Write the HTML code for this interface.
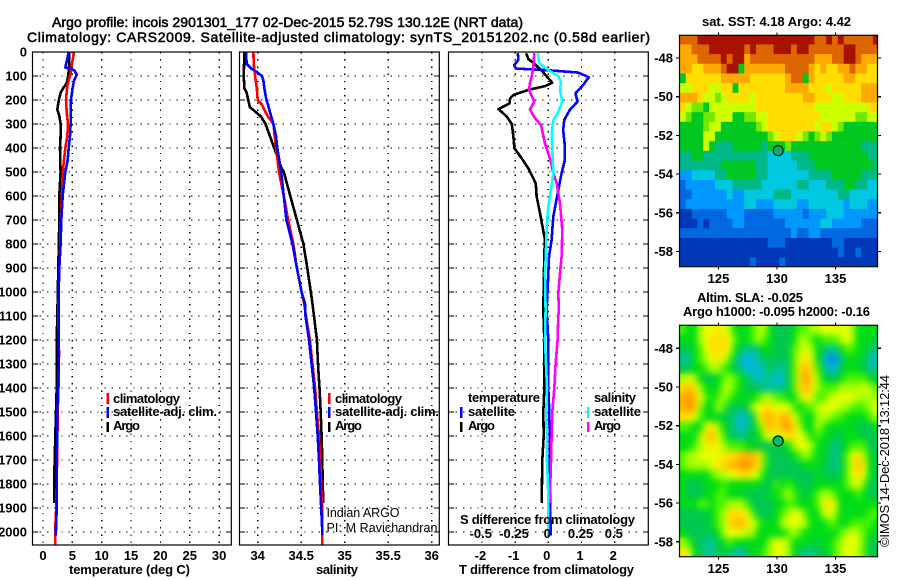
<!DOCTYPE html>
<html lang="en">
<head>
<meta charset="utf-8">
<title>Argo profile chart</title>
<style>
html,body{margin:0;padding:0;background:#fff;}
svg{display:block;}
text{font-family:"Liberation Sans",sans-serif;fill:#000;}
.b{font-weight:bold;font-size:13px;}
.t{font-size:14px;stroke:#000;stroke-width:.55px;}
.n{font-size:12.5px;}
</style>
</head>
<body>
<svg id="chart" xmlns="http://www.w3.org/2000/svg" width="900" height="580" viewBox="0 0 900 580">
<defs>
<clipPath id="sst-clip"><rect x="680" y="35" width="197" height="231"/></clipPath>
<clipPath id="sla-clip"><rect x="680" y="325" width="197" height="231"/></clipPath>
<filter id="sla-smooth" filterUnits="userSpaceOnUse" x="660" y="305" width="240" height="270" color-interpolation-filters="sRGB">
<feGaussianBlur in="SourceGraphic" stdDeviation="3.5" result="soft"/>
<feMerge><feMergeNode in="SourceGraphic"/><feMergeNode in="soft"/></feMerge>
</filter>
</defs>
<text class="t" x="52" y="27" textLength="471" lengthAdjust="spacing">Argo profile: incois 2901301_177 02-Dec-2015 52.79S 130.12E (NRT data)</text>
<text class="t" x="27" y="42" textLength="623" lengthAdjust="spacing">Climatology: CARS2009. Satellite-adjusted climatology: synTS_20151202.nc (0.58d earlier)</text>
<g id="panels"></g>
<text class="b" x="69" y="574" textLength="121" lengthAdjust="spacing">temperature (deg C)</text>
<text class="b" x="316" y="574" textLength="42" lengthAdjust="spacing">salinity</text>
<text class="b" x="459" y="574" textLength="175" lengthAdjust="spacing">T difference from climatology</text>
<text class="b" x="460" y="524" textLength="175" lengthAdjust="spacing">S difference from climatology</text>
<g>
<rect x="106.5" y="393" width="2.5" height="11" fill="#f00"/>
<text class="b" x="113" y="403" textLength="67" lengthAdjust="spacing">climatology</text>
<rect x="106.5" y="407" width="2.5" height="11" fill="#00f"/>
<text class="b" x="113" y="416" textLength="104" lengthAdjust="spacing">satellite-adj. clim.</text>
<rect x="106.5" y="422" width="2.5" height="10" fill="#000"/>
<text class="b" x="113" y="430" textLength="27" lengthAdjust="spacing">Argo</text>
</g>
<g>
<rect x="328" y="393" width="2.5" height="11" fill="#f00"/>
<text class="b" x="335" y="403" textLength="67" lengthAdjust="spacing">climatology</text>
<rect x="328" y="407" width="2.5" height="11" fill="#00f"/>
<text class="b" x="335" y="416" textLength="104" lengthAdjust="spacing">satellite-adj. clim.</text>
<rect x="328" y="422" width="2.5" height="10" fill="#000"/>
<text class="b" x="335" y="430" textLength="27" lengthAdjust="spacing">Argo</text>
</g>
<text class="n" x="326.5" y="517" textLength="73" lengthAdjust="spacing">Indian ARGO</text>
<text class="n" x="326.5" y="532" textLength="111" lengthAdjust="spacing">PI: M Ravichandran</text>
<g>
<text class="b" x="468" y="402" textLength="72" lengthAdjust="spacing">temperature</text>
<rect x="460" y="407" width="2.5" height="11" fill="#00f"/>
<text class="b" x="468" y="416" textLength="47" lengthAdjust="spacing">satellite</text>
<rect x="460" y="422" width="2.5" height="10" fill="#000"/>
<text class="b" x="468" y="430" textLength="27" lengthAdjust="spacing">Argo</text>
<text class="b" x="594" y="402" textLength="42" lengthAdjust="spacing">salinity</text>
<rect x="587" y="407" width="2.5" height="11" fill="#0ff"/>
<text class="b" x="594" y="416" textLength="47" lengthAdjust="spacing">satellite</text>
<rect x="587" y="422" width="2.5" height="10" fill="#f0f"/>
<text class="b" x="594" y="430" textLength="27" lengthAdjust="spacing">Argo</text>
</g>
<text class="b" x="702" y="26" textLength="149" lengthAdjust="spacing">sat. SST: 4.18 Argo: 4.42</text>
<text class="b" x="697" y="302" textLength="106" lengthAdjust="spacing">Altim. SLA: -0.025</text>
<text class="b" x="683" y="316" textLength="187" lengthAdjust="spacing">Argo h1000: -0.095 h2000: -0.16</text>
<text font-size="13" transform="translate(889 547) rotate(-90)" textLength="172" lengthAdjust="spacing">©IMOS 14-Dec-2018 13:12:44</text>
<g id="maps"></g>
</svg>
<script>
const depthTicks = [0,100,200,300,400,500,600,700,800,900,1000,1100,1200,1300,1400,1500,1600,1700,1800,1900,2000];
const tempTicks = [0,5,10,15,20,25,30];
const salTicks = [34,34.5,35,35.5,36];
const salTickLabels = ['34','34.5','35','35.5','36'];
const tDiffTicks = [-2,-1,0,1,2];
const sDiffTicks = [-0.5,-0.25,0,0.25,0.5];
const sDiffTickLabels = ['-0.5','-0.25','0','0.25','0.5'];
const lonTicks = [125,130,135];
const latTicks = [-48,-50,-52,-54,-56,-58];

const tempClimDepth = [0,50,90,140,200,250,300,350,400,450,500,600,700,800,900,1000,1100,1250,1350,1500,1700,1900,1980,2055];
const tempClimValue = [5.28,4.94,4.71,4.14,3.92,4.03,4.26,4.14,3.8,3.58,3.35,3.24,3.01,2.95,2.78,2.67,2.6,2.73,2.7,2.5,2.4,2.25,2.1,2.1];
const tempSatDepth = [0,40,65,70,78,95,120,150,200,300,350,400,450,500,600,700,800,900,1000,1100,1300,1500,1600,1700,1900,2000,2015];
const tempSatValue = [4.37,4.03,3.8,4.88,5.4,5.73,5.28,5.05,4.77,4.71,4.6,4.37,4.2,3.8,3.35,3.12,3.0,2.78,2.67,2.67,2.67,2.44,2.44,2.33,2.33,2.2,2.2];
const tempArgoDepth = [0,50,100,130,150,170,200,240,265,300,350,400,500,600,700,800,1100,1200,1400,1600,1750,1880];
const tempArgoValue = [4.49,4.49,4.3,4.03,3.45,3.0,2.7,2.44,2.78,3.0,3.0,2.9,3.0,2.78,2.78,2.7,2.44,2.33,2.33,2.1,1.94,1.94];

const salClimDepth = [0,50,100,150,200,220,250,270,300,400,500,600,700,750,800,900,1000,1050,1100,1200,1300,1400,1500,1600,1700,1800,1900,2000,2055];
const salClimValue = [33.95,33.954,33.97,33.99,34.0,34.05,34.09,34.12,34.18,34.21,34.245,34.30,34.35,34.38,34.41,34.45,34.505,34.535,34.555,34.60,34.63,34.66,34.68,34.705,34.72,34.73,34.74,34.743,34.743];
const salSatDepth = [0,50,70,80,100,120,150,200,220,250,300,350,400,500,600,700,800,900,1000,1050,1100,1200,1300,1400,1500,1600,1700,1800,1900,2000,2015];
const salSatValue = [33.865,33.874,33.93,33.977,34.05,34.065,34.076,34.10,34.12,34.14,34.18,34.21,34.225,34.27,34.30,34.33,34.40,34.45,34.505,34.545,34.55,34.59,34.62,34.65,34.67,34.69,34.705,34.716,34.73,34.743,34.743];
const salArgoDepth = [0,100,150,170,200,230,250,270,300,350,400,450,480,500,600,700,800,900,1000,1050,1100,1200,1300,1400,1500,1600,1700,1800,1880];
const salArgoValue = [33.846,33.84,33.846,33.874,33.892,33.91,33.977,34.04,34.09,34.14,34.19,34.24,34.27,34.30,34.375,34.45,34.525,34.57,34.61,34.63,34.647,34.68,34.693,34.71,34.724,34.735,34.743,34.747,34.755];

const diffTArgoDepth = [5,30,45,78,128,142,158,179,193,214,238,269,300,353,401,443,485,547,603,672,783,839,922,1075,1200,1400,1500,1600,1700,1880];
const diffTArgoValue = [-.67,-.6,-.45,-.2,.12,-.1,-.6,-1.05,-1.15,-1.17,-1.5,-1.25,-1.1,-1.05,-1.02,-.8,-.6,-.38,-.35,-.25,-.1,-.12,-.13,-.15,-.12,-.12,-.15,-.14,-.18,-.2];
const diffTSatDepth = [5,33,55,69,75,86,105,137,172,207,241,283,325,394,450,505,575,686,783,853,992,1075,1200,1400,1500,1650,1800,2000,2015];
const diffTSatValue = [-.92,-.9,-1.03,-.97,-.1,.9,1.22,1.05,.82,.88,.65,.48,.45,.5,.5,.4,.3,.15,.1,.02,-.02,-.05,0,0,.03,.05,.05,.07,.07];
const diffSSatDepth = [5,47,75,100,124,158,207,249,283,339,408,505,575,644,728,839,922,1075,1200,1400,1500,1700,1850,2000,2015];
const diffSSatValue = [-.08,-.068,0,.075,.095,.088,.105,.075,.038,.025,.03,.038,.02,0,-.012,-.018,-.025,-.02,-.025,-.01,-.015,-.01,0,0,0];
const diffSArgoDepth = [5,61,89,131,158,207,239,276,304,381,443,505,547,631,742,853,922,1006,1075,1100,1200,1300,1400,1500,1600,1700,1800,1880];
const diffSArgoValue = [-.105,-.113,-.12,-.138,-.145,-.105,-.138,-.1,-.055,-.025,.012,.038,.063,.088,.105,.1,.088,.075,.08,.075,.07,.055,.045,.03,.025,.02,.015,.01];

const sstPalette = ['#0038b8','#0068e0','#0098ff','#00c8e0','#00b888','#00c820','#70e800','#ccff00','#ffdd00','#ffaa00','#dd6600','#aa1100'];
const slaPalette = ['#0090f0','#00b8d8','#00c498','#00c850','#00dc18','#48f400','#a8ff00','#e8ff00','#ffe000','#ffb800','#ff9400'];
const sstGrid = [
[10,10,10,11,11,11,11,11,11,11,11,11,11,11,11,11,11,11,11,11,11,11,11,10,10,11,10,11,10,10,10,10,10,11],
[9,9,10,10,10,11,11,11,11,11,11,10,11,10,10,10,11,11,11,10,11,11,10,10,10,10,10,10,11,11,10,10,10,10],
[9,9,9,10,10,10,10,11,10,11,11,9,10,10,10,10,10,10,10,10,10,10,10,9,9,9,10,10,11,11,10,9,9,9],
[9,9,8,8,9,9,9,10,11,11,5,9,9,9,9,9,9,9,10,10,10,10,9,8,9,8,8,9,9,10,9,9,8,8],
[5,8,8,8,8,8,8,9,9,9,9,9,8,8,8,8,8,8,9,10,10,5,9,8,8,8,8,8,9,9,8,8,8,8],
[7,7,8,8,8,7,7,8,8,5,8,8,8,8,8,8,8,8,9,9,9,9,8,8,8,7,8,8,8,8,8,9,9,9],
[9,9,9,8,7,7,6,7,8,8,8,8,7,8,8,8,8,8,8,8,8,9,9,8,8,8,7,7,8,8,8,9,9,9],
[8,7,6,6,5,7,7,7,7,7,7,7,7,8,8,8,8,8,8,8,8,8,8,7,7,7,7,7,7,7,7,7,8,8],
[7,6,5,5,6,6,7,7,7,5,5,6,6,7,7,8,8,8,8,8,8,8,8,8,7,7,7,7,7,7,6,6,7,7],
[5,5,5,5,6,7,7,5,5,5,5,5,5,6,7,8,8,8,8,8,8,8,8,7,8,8,7,6,5,5,5,5,5,5],
[5,5,5,5,7,7,5,5,5,5,5,5,5,5,5,6,7,8,8,8,7,6,5,6,7,6,5,5,5,5,5,5,5,5],
[5,5,5,5,7,5,4,4,4,5,5,5,5,5,4,5,5,5,6,5,5,5,5,5,5,5,5,5,5,5,5,4,4,4],
[4,4,5,5,4,4,4,4,4,4,4,4,4,4,4,3,3,3,3,4,4,4,5,5,5,5,5,5,5,5,5,5,4,4],
[4,4,4,4,4,4,4,5,5,5,5,5,5,4,4,3,3,3,3,3,4,4,4,5,5,5,5,5,5,5,5,5,5,4],
[2,2,3,3,3,3,4,4,5,5,5,5,5,4,4,3,3,3,3,3,3,3,4,4,4,4,5,5,5,5,5,4,4,4],
[1,2,2,2,2,2,3,3,3,4,4,4,4,4,3,3,3,3,3,3,4,4,3,3,3,4,4,4,5,5,4,4,3,3],
[1,1,2,2,2,2,2,2,3,2,2,3,3,3,3,3,4,4,4,3,3,3,3,3,3,3,3,4,4,3,3,3,3,3],
[1,2,2,2,2,2,2,2,2,2,2,3,3,2,2,2,3,3,3,3,2,2,3,3,3,3,3,3,2,3,3,3,2,2],
[0,0,1,1,1,1,1,1,2,2,2,1,1,1,1,1,2,2,2,2,2,1,2,2,2,3,3,3,2,2,2,2,2,2],
[0,0,0,1,0,1,1,1,1,2,2,1,1,1,1,1,1,1,2,2,2,2,2,2,3,3,2,2,2,2,2,1,1,1],
[1,1,1,1,1,1,1,1,1,1,1,1,1,1,1,1,1,1,1,2,1,1,2,2,1,1,1,1,1,1,1,1,1,1],
[0,0,0,0,0,0,0,0,0,0,0,0,0,0,0,1,1,1,0,0,0,0,0,0,0,0,1,1,0,0,0,0,0,0],
[0,0,0,0,0,0,0,0,0,0,0,0,0,0,0,0,0,0,0,0,0,0,0,0,0,0,0,1,0,0,1,0,0,0],
[0,0,0,0,0,0,0,0,0,0,0,0,1,0,0,0,0,1,0,0,0,0,0,0,0,0,0,0,0,0,0,0,0,0]
];
const slaGrid = [
[5,4,4,6,7,7,8,7,6,4,4,4,5,6,6,4,3,3,3,4,5,5,6,6,7,7,7,7,7,6,4,4,4,4],
[4,4,4,6,7,8,8,8,7,5,4,4,5,6,5,4,3,3,3,4,6,6,5,4,5,5,5,6,7,6,4,4,4,3],
[3,3,4,5,7,8,8,8,7,4,3,2,2,3,4,4,3,3,3,5,6,7,6,4,3,2,2,4,5,5,4,4,3,2],
[2,2,4,5,6,7,8,7,5,3,1,1,1,2,3,3,3,3,3,5,7,8,7,4,2,0,0,2,4,4,4,3,2,1],
[3,3,4,4,5,6,6,5,4,3,2,1,1,1,2,3,2,2,3,5,8,9,8,5,3,1,1,3,4,4,4,3,2,2],
[6,7,6,4,3,3,4,5,6,5,4,3,2,1,2,2,1,1,3,5,8,10,8,6,4,3,3,4,5,5,5,5,4,3],
[8,9,8,6,4,4,4,6,6,5,4,3,3,3,2,2,2,2,3,5,8,9,8,6,5,5,5,6,6,6,6,7,6,5],
[9,10,9,7,5,4,5,6,5,4,4,4,4,5,6,6,5,5,4,4,6,8,7,5,5,6,7,7,7,7,6,6,6,6],
[9,10,9,6,4,4,6,5,3,3,3,3,6,7,8,8,7,7,7,5,4,5,5,6,7,7,7,6,6,5,5,5,6,7],
[8,8,7,5,4,4,4,3,3,2,1,2,3,7,9,9,8,9,9,7,5,4,4,6,6,6,5,5,4,4,4,4,5,6],
[5,5,4,4,7,8,6,4,3,2,1,2,3,5,8,9,8,9,10,8,6,4,4,6,5,4,4,4,4,4,3,3,3,4],
[4,4,4,6,8,9,7,5,3,3,2,3,3,4,6,7,6,7,8,8,7,6,4,5,4,4,3,3,4,4,4,3,3,3],
[4,4,5,6,7,8,7,6,5,5,5,4,4,3,3,3,3,3,4,6,7,7,6,4,4,3,2,3,4,5,5,5,3,3],
[5,6,6,7,7,7,7,8,8,8,9,9,9,8,5,3,3,3,3,4,5,6,5,4,4,3,2,3,5,7,8,6,4,3],
[5,6,6,6,6,7,8,8,9,9,10,10,9,8,5,3,3,3,3,3,3,4,4,4,3,3,2,3,5,7,9,7,4,3],
[4,4,4,4,4,5,6,6,7,7,8,8,7,6,4,3,3,3,3,3,3,3,3,4,3,3,3,3,5,7,8,7,4,3],
[4,3,3,3,4,4,4,5,4,4,4,4,4,4,3,3,5,4,5,4,3,3,3,4,4,4,4,4,5,6,7,5,3,3],
[4,3,3,3,4,4,5,5,4,4,4,3,3,3,3,4,4,5,6,5,4,3,4,5,6,6,5,4,4,4,5,4,3,3],
[4,4,4,5,5,4,5,5,6,6,6,5,3,3,3,3,4,4,5,5,4,4,4,5,7,8,7,4,4,4,4,4,4,4],
[3,3,3,3,3,4,5,6,8,8,8,7,5,3,3,3,4,5,6,7,7,5,4,4,6,7,6,4,4,4,4,4,5,5],
[3,3,3,3,3,4,5,6,8,9,9,8,7,5,4,4,4,6,7,7,7,6,4,4,4,5,5,4,4,5,5,5,5,4],
[4,3,3,3,3,3,4,6,7,7,7,6,6,4,4,4,4,4,5,6,5,4,4,4,4,4,4,5,6,7,6,5,4,4],
[6,5,3,3,2,2,3,4,5,4,4,4,4,4,4,6,7,7,6,4,4,4,4,3,4,4,5,6,7,7,7,5,3,3],
[8,7,4,3,2,2,3,3,3,2,1,3,4,4,5,6,7,7,6,4,3,2,2,3,3,4,5,6,7,7,6,5,3,3]
];
const floatLon = 130.12;
const floatLat = -52.79;

const NS = 'http://www.w3.org/2000/svg';
const panels = document.getElementById('panels');
const maps = document.getElementById('maps');
const PLOT_TOP = 52, PLOT_BOTTOM = 545;
const yDepth = d => 52 + d * 0.24;
const xTemp = v => 43 + v * 5.87;
const xSal = v => 257.7 + (v - 34) * 87;
const xTDiff = v => 548.3 + v * 33.2;
const xSDiff = v => 548.3 + v * 133;
const xLon = v => 777 + (v - 130) * 11.7;
const ySst = v => 58 - (v + 48) * 19.35;
const ySla = v => 348.3 - (v + 48) * 19.35;

function seg(parent, name, x1, y1, x2, y2, attrs) {
  const el = document.createElementNS(NS, 'line');
  
  
  el.setAttribute('x1', x1);
  el.setAttribute('y1', y1);
  el.setAttribute('x2', x2);
  el.setAttribute('y2', y2);
  el.setAttribute('stroke', '#000');
  el.setAttribute('shape-rendering', 'crispEdges');
  for (const k in attrs) el.setAttribute(k, attrs[k]);
  parent.appendChild(el);
  return el;
}
function label(parent, name, x, y, str, anchor) {
  const el = document.createElementNS(NS, 'text');
  
  
  el.setAttribute('class', 'b');
  el.setAttribute('x', x);
  el.setAttribute('y', y);
  el.setAttribute('text-anchor', anchor);
  el.textContent = str;
  parent.appendChild(el);
}
function group(parent, name) {
  const g = document.createElementNS(NS, 'g');
  
  
  parent.appendChild(g);
  return g;
}
function profile(parent, name, depths, values, xf, color) {
  const el = document.createElementNS(NS, 'polyline');
  
  
  el.setAttribute('points', depths.map((d, i) => xf(values[i]).toFixed(1) + ',' + yDepth(d).toFixed(1)).join(' '));
  el.setAttribute('fill', 'none');
  el.setAttribute('stroke', color);
  el.setAttribute('stroke-width', '2.6');
  el.setAttribute('stroke-linejoin', 'round');
  el.setAttribute('shape-rendering', 'crispEdges');
  parent.appendChild(el);
}
function profileFrame(parent, left, right, gridXs) {
  const gridStyle = {'stroke-width': '1.3', 'stroke-dasharray': '1.4 5.8'};
  gridXs.forEach(x => {
    seg(parent, 'vertical-gridline', x, PLOT_TOP, x, PLOT_BOTTOM, gridStyle);
  });
  depthTicks.forEach(d => {
    const y = yDepth(d);
    seg(parent, 'horizontal-gridline', left, y, right, y, gridStyle);
    seg(parent, 'depth-tick-left', left, y, left + 5.5, y, {'stroke-width': '1.2'});
    seg(parent, 'depth-tick-right', right - 5.5, y, right, y, {'stroke-width': '1.2'});
  });
}
function profileBorder(parent, left, right) {
  const el = document.createElementNS(NS, 'rect');
  
  
  el.setAttribute('x', left);
  el.setAttribute('y', PLOT_TOP);
  el.setAttribute('width', right - left);
  el.setAttribute('height', PLOT_BOTTOM - PLOT_TOP);
  el.setAttribute('fill', 'none');
  el.setAttribute('stroke', '#000');
  el.setAttribute('stroke-width', '1.2');
  parent.appendChild(el);
}

/* temperature panel */
const tempPanel = group(panels, 'temperature-panel');
profileFrame(tempPanel, 32.5, 231.3, tempTicks.map(xTemp));
profile(tempPanel, 'temperature-argo-line', tempArgoDepth, tempArgoValue, xTemp, '#000');
profile(tempPanel, 'temperature-climatology-line', tempClimDepth, tempClimValue, xTemp, '#f00');
profile(tempPanel, 'temperature-satellite-line', tempSatDepth, tempSatValue, xTemp, '#00f');
profileBorder(tempPanel, 32.5, 231.3);
depthTicks.forEach(d => {
  label(tempPanel, 'depth-tick-label', 27, yDepth(d) + 4.5, String(d), 'end');
});
tempTicks.forEach(v => {
  label(tempPanel, 'temperature-tick-label', xTemp(v), 560, String(v), 'middle');
});

/* salinity panel */
const salPanel = group(panels, 'salinity-panel');
profileFrame(salPanel, 239.5, 439.3, salTicks.map(xSal));
profile(salPanel, 'salinity-argo-line', salArgoDepth, salArgoValue, xSal, '#000');
profile(salPanel, 'salinity-climatology-line', salClimDepth, salClimValue, xSal, '#f00');
profile(salPanel, 'salinity-satellite-line', salSatDepth, salSatValue, xSal, '#00f');
profileBorder(salPanel, 239.5, 439.3);
salTicks.forEach((v, i) => {
  label(salPanel, 'salinity-tick-label', xSal(v), 560, salTickLabels[i], 'middle');
});

/* difference panel */
const diffPanel = group(panels, 'difference-panel');
profileFrame(diffPanel, 448.5, 648.3, tDiffTicks.map(xTDiff));
profile(diffPanel, 't-diff-argo-line', diffTArgoDepth, diffTArgoValue, xTDiff, '#000');
profile(diffPanel, 't-diff-satellite-line', diffTSatDepth, diffTSatValue, xTDiff, '#00f');
profile(diffPanel, 's-diff-argo-line', diffSArgoDepth, diffSArgoValue, xSDiff, '#f0f');
profile(diffPanel, 's-diff-satellite-line', diffSSatDepth, diffSSatValue, xSDiff, '#0ff');
profileBorder(diffPanel, 448.5, 648.3);
tDiffTicks.forEach(v => {
  label(diffPanel, 't-diff-tick-label', xTDiff(v) - 1.5, 560, String(v), 'middle');
});
sDiffTicks.forEach((v, i) => {
  label(diffPanel, 's-diff-tick-label', xSDiff(v) - 1, 538, sDiffTickLabels[i], 'middle');
});

/* maps */
function drawMap(name, top, bottom, grid, palette, yf, clip, filter, markerFill) {
  const g = group(maps, name);
  const cells = group(g, name + '-cells');
  cells.setAttribute('clip-path', 'url(#' + clip + ')');
  if (filter) cells.setAttribute('filter', 'url(#' + filter + ')');
  const lonStart = 121.7, latStart = -46.8, step = 0.5;
  grid.forEach((row, r) => {
    row.forEach((v, c) => {
      const x0 = xLon(lonStart + c * step), x1 = xLon(lonStart + (c + 1) * step);
      const y0 = yf(latStart - r * step), y1 = yf(latStart - (r + 1) * step);
      const el = document.createElementNS(NS, 'rect');
      
      
      el.setAttribute('x', x0.toFixed(2));
      el.setAttribute('y', y0.toFixed(2));
      el.setAttribute('width', (x1 - x0 + 0.4).toFixed(2));
      el.setAttribute('height', (y1 - y0 + 0.4).toFixed(2));
      el.setAttribute('fill', palette[v]);
      cells.appendChild(el);
    });
  });
  const frame = document.createElementNS(NS, 'rect');
  
  
  frame.setAttribute('x', 679.5);
  frame.setAttribute('y', top);
  frame.setAttribute('width', 198);
  frame.setAttribute('height', bottom - top);
  frame.setAttribute('fill', 'none');
  frame.setAttribute('stroke', '#000');
  frame.setAttribute('stroke-width', '1.2');
  g.appendChild(frame);
  lonTicks.forEach(v => {
    const x = xLon(v);
    seg(g, 'longitude-tick-top', x, top - 3, x, top, {'stroke-width': '1.2'});
    seg(g, 'longitude-tick-bottom', x, bottom, x, bottom + 3, {'stroke-width': '1.2'});
    label(g, 'longitude-tick-label', x, bottom + 16.5, String(v), 'middle');
  });
  latTicks.forEach(v => {
    const y = yf(v);
    seg(g, 'latitude-tick-left', 676, y, 679.5, y, {'stroke-width': '1.2'});
    seg(g, 'latitude-tick-right', 877.5, y, 881, y, {'stroke-width': '1.2'});
    label(g, 'latitude-tick-label', 673, y + 4.5, String(v), 'end');
  });
  const m = document.createElementNS(NS, 'circle');
  
  
  m.setAttribute('cx', xLon(floatLon) - 0.2);
  m.setAttribute('cy', yf(floatLat));
  m.setAttribute('r', '5');
  m.setAttribute('fill', markerFill);
  m.setAttribute('stroke', '#000');
  m.setAttribute('stroke-width', '1.1');
  g.appendChild(m);
}
drawMap('sst-map', 35.3, 266.7, sstGrid, sstPalette, ySst, 'sst-clip', null, '#00b070');
drawMap('sla-map', 325.3, 556.7, slaGrid, slaPalette, ySla, 'sla-clip', 'sla-smooth', '#00c060');
</script>
</body>
</html>
